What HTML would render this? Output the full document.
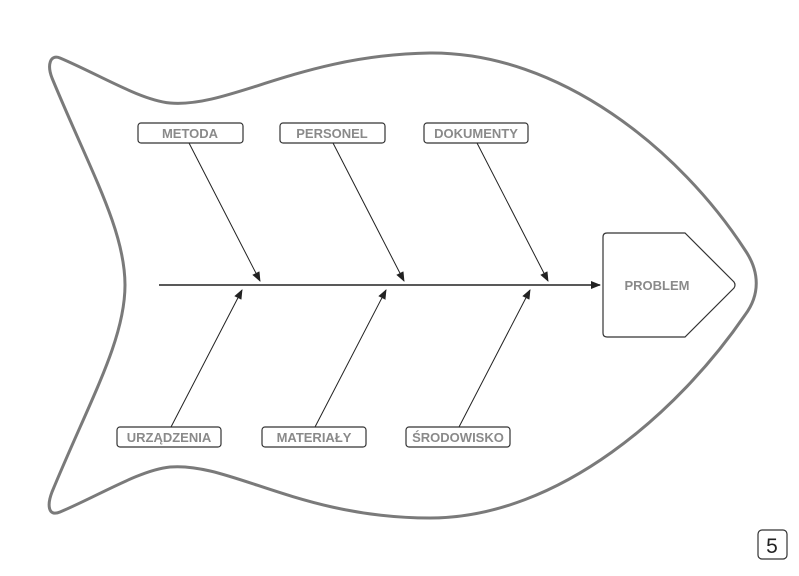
<!DOCTYPE html>
<html><head><meta charset="utf-8"><style>
html,body{margin:0;padding:0;background:#fff;}
svg text{font-family:"Liberation Sans Narrow","Liberation Sans",sans-serif;}
</style></head><body>
<svg width="799" height="571" viewBox="0 0 799 571" xmlns="http://www.w3.org/2000/svg">
<defs><marker id="a" markerWidth="10" markerHeight="8" refX="9" refY="4" orient="auto" markerUnits="userSpaceOnUse"><path d="M0,0 L10,4 L0,8 Z" fill="#222"/></marker></defs>
<path d="M60,58 C100,75 140,100 170,103 C230,108 300,55 430,53 C560,52 680,150 745,250 C760,272 760,295 745,315 C680,410 560,518 430,518 C300,518 230,462 170,467 C140,470 100,495 60,512 C48,517 47,505 52,492 C90,400 125,340 125,285 C125,230 90,170 52,78 C47,65 50,54 60,58 Z" fill="none" stroke="#7a7a7a" stroke-width="3"/>
<line x1="159" y1="285" x2="600" y2="285" stroke="#222" stroke-width="1.6" marker-end="url(#a)"/>
<g stroke="#222" stroke-width="1" marker-end="url(#a)">
<line x1="189" y1="143" x2="260" y2="281"/>
<line x1="333" y1="143" x2="404" y2="281"/>
<line x1="477" y1="143" x2="548" y2="281"/>
<line x1="171" y1="427" x2="242" y2="290"/>
<line x1="315" y1="427" x2="386" y2="290"/>
<line x1="459" y1="427" x2="530" y2="290"/>
</g>
<g fill="#fff" stroke="#333" stroke-width="1.2">
<rect x="138" y="123" width="105" height="20" rx="3"/>
<rect x="280" y="123" width="105" height="20" rx="3"/>
<rect x="424" y="123" width="104" height="20" rx="3"/>
<rect x="117" y="427" width="104" height="20" rx="3"/>
<rect x="262" y="427" width="104" height="20" rx="3"/>
<rect x="406" y="427" width="104" height="20" rx="3"/>
<path d="M607,233 L685,233 L734,282 Q736,285 734,288 L685,337 L607,337 Q603,337 603,333 L603,237 Q603,233 607,233 Z"/>
<rect x="758" y="530" width="29" height="29" rx="4"/>
</g>
<g fill="#8a8a8a" font-size="13" text-anchor="middle" font-weight="bold">
<text x="190" y="138">METODA</text>
<text x="332" y="138">PERSONEL</text>
<text x="476" y="138">DOKUMENTY</text>
<text x="169" y="442">URZĄDZENIA</text>
<text x="314" y="442">MATERIAŁY</text>
<text x="458" y="442">ŚRODOWISKO</text>
<text x="657" y="290">PROBLEM</text>
</g>
<text x="772" y="553" font-size="21" text-anchor="middle" fill="#222">5</text>
</svg>
</body></html>
